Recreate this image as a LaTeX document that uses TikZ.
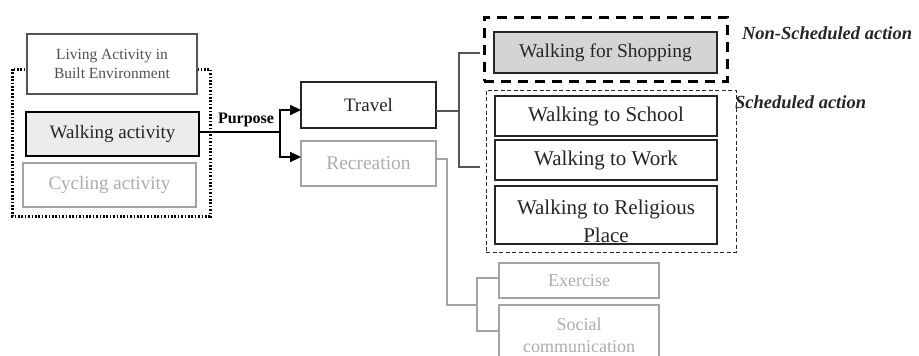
\documentclass[tikz,border=0pt]{standalone}
\usepackage{fontspec}
\setmainfont{Liberation Serif}
\usetikzlibrary{arrows.meta}
\definecolor{darkline}{HTML}{262626}
\definecolor{midline}{HTML}{555555}
\definecolor{greyline}{HTML}{A3A3A3}
\definecolor{greytext}{HTML}{ADADAD}
\definecolor{shopfill}{HTML}{D4D4D4}
\definecolor{walkfill}{HTML}{ECECEC}
\begin{document}
\begin{tikzpicture}[x=1pt,y=-1pt,
  every node/.style={inner sep=0pt,outer sep=0pt},
  box/.style={draw=darkline,line width=1.4pt,fill=white,rectangle,align=center},
  greybox/.style={draw=greyline,line width=1.3pt,fill=white,rectangle,align=center,text=greytext},
  dotline/.style={draw=black,line width=3pt,dash pattern=on 1.7pt off 1.7pt},
  nsdash/.style={draw=black,line width=3pt,dash pattern=on 10pt off 7pt,rectangle},
  sdash/.style={draw=darkline,line width=1pt,dash pattern=on 4pt off 2.5pt,rectangle},
  purposeline/.style={draw=black,line width=2.2pt},
  purposearrow/.style={purposeline,-{Triangle[length=11pt,width=10pt]}},
  travline/.style={draw=midline,line width=1.3pt},
  recline/.style={draw=greyline,line width=1.3pt},
  actlabel/.style={font=\fontsize{18.5}{22}\selectfont\bfseries\itshape,text=darkline,anchor=west}
]
\useasboundingbox (0,0) rectangle (919,356);
\clip (0,0) rectangle (919,356);

% left group
\node[rectangle,minimum width=198pt,minimum height=147pt] (grp) at (111,142.5) {};
\draw[dotline] (grp.north west) rectangle (grp.south east);
\node[box,draw=midline,line width=1.2pt,minimum width=170pt,minimum height=60pt,
      font=\fontsize{15.5}{19}\selectfont,text=darkline!80] (liv) at (112,64) {Living Activity in\\Built Environment};
\node[box,fill=walkfill,line width=2.6pt,draw=black,minimum width=173pt,minimum height=44pt,
      font=\fontsize{19}{23}\selectfont,text=darkline] (walk) at (112.5,134) {Walking activity};
\node[greybox,minimum width=173pt,minimum height=44pt,
      font=\fontsize{19}{23}\selectfont] (cyc) at (109.5,185) {Cycling activity};

% purpose
\node[font=\fontsize{16}{19}\selectfont\bfseries,text=black] (purp) at (246,120) {Purpose};
\node[box,minimum width=135pt,minimum height=46pt,font=\fontsize{19}{23}\selectfont,text=darkline] (trav) at (368.5,105) {Travel};
\node[greybox,minimum width=135pt,minimum height=45pt,font=\fontsize{19.5}{23}\selectfont] (rec) at (368.5,163.5) {Recreation};

\coordinate (br) at (280,132);
\draw[purposeline] ([yshift=2pt]walk.east) -- (br);
\draw[purposearrow] (br) |- ([yshift=-5pt]trav.west);
\draw[purposearrow] (br) |- ([yshift=6.5pt]rec.west);

% right groups
\node[nsdash,minimum width=243pt,minimum height=64pt] (nsg) at (605.5,49) {};
\node[box,fill=shopfill,minimum width=223pt,minimum height=41pt,font=\fontsize{19.5}{23}\selectfont,text=darkline] (shop) at (605.5,52.5) {Walking for Shopping};
\node[sdash,minimum width=250pt,minimum height=162pt] (sg) at (611,171) {};
\node[box,minimum width=222pt,minimum height=40pt,font=\fontsize{21}{25}\selectfont,text=darkline] (school) at (606,116) {Walking to School};
\node[box,minimum width=222pt,minimum height=40pt,font=\fontsize{21}{25}\selectfont,text=darkline] (work) at (606,160) {Walking to Work};
\node[box,minimum width=222pt,minimum height=58pt] (relig) at (606,215) {};
\begin{scope}
  \clip (495,186) rectangle (717,244);
  \node[align=center,font=\fontsize{21}{28}\selectfont,text=darkline] (religtxt) at (606,221) {Walking to Religious\\Place};
\end{scope}
\draw[darkline,line width=1.4pt] (relig.south west) -- (relig.south east);

\node[actlabel] (nslab) at (742,33) {Non-Scheduled action};
\node[actlabel] (slab) at (735,102) {Scheduled action};

% travel connectors
\coordinate (tv) at (459,111);
\coordinate (shopend) at (480,53);
\coordinate (workend) at (480,167);
\draw[travline] ([yshift=-6pt]trav.east) -- (tv);
\draw[travline] (shopend) -| (tv) |- (workend);

% recreation subtree
\node[greybox,minimum width=160pt,minimum height=35pt,font=\fontsize{18}{22}\selectfont] (exer) at (579,280.5) {Exercise};
\node[greybox,minimum width=160pt,minimum height=60pt,font=\fontsize{18}{22}\selectfont] (soc) at (579,335) {Social\\communication};
\coordinate (rv) at (447,305);
\coordinate (ev) at (477,305);
\draw[recline] ([yshift=4.5pt]rec.east) -| (rv) -- (ev);
\draw[recline] ([yshift=2.5pt]exer.west) -| (ev) |- ([yshift=4pt]soc.west);
\end{tikzpicture}
\end{document}
